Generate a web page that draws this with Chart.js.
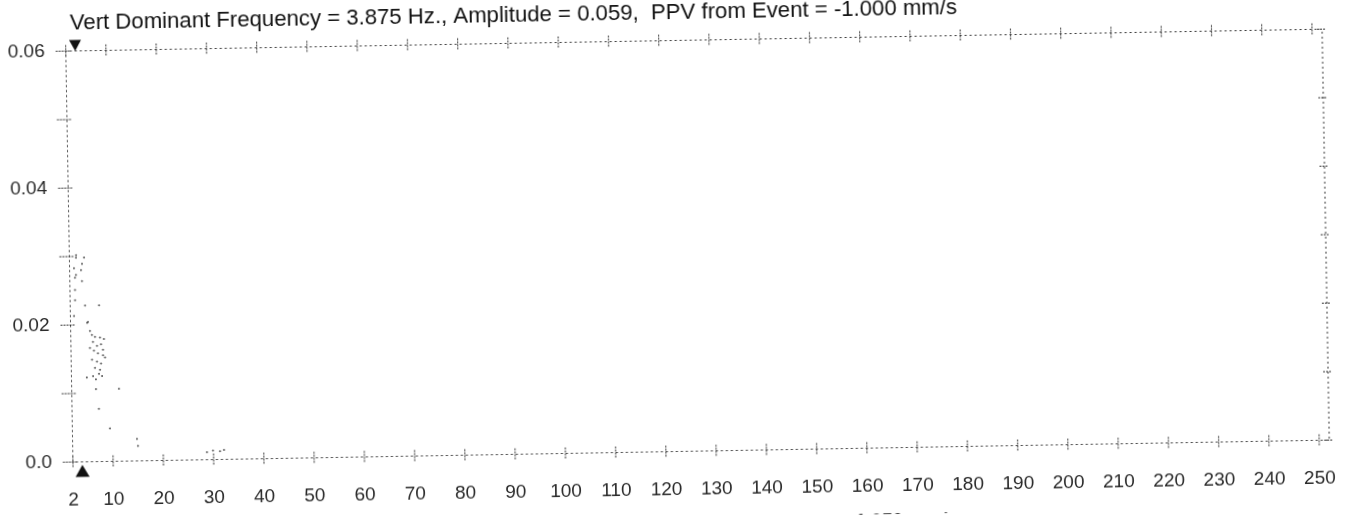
<!DOCTYPE html>
<html>
<head>
<meta charset="utf-8">
<script src="https://cdn.jsdelivr.net/npm/chart.js@4.4.1/dist/chart.umd.min.js"></script>
<style>
html, body { margin: 0; padding: 0; background: #fff; overflow: hidden; }
#wrap { width: 1351px; height: 518px; transform: rotate(-1deg); transform-origin: 675.5px 259px; }
</style>
</head>
<body>
<div id="wrap"><canvas id="spec" width="1351" height="518"></canvas></div>
<script>
// spectrum points (Hz, mm/s)
const freqs = [3.33, 3.31, 4.91, 4.49, 4.27, 3.25, 4.43, 3.05, 2.88, 3.01, 2.98, 2.72, 4.95, 5.48,
    5.84, 6.22, 6.82, 7.81, 8.59, 6.40, 7.19, 7.99, 8.37, 5.78, 6.56, 7.35, 8.35, 6.15, 7.13, 7.93,
    8.75, 6.71, 7.71, 6.30, 7.49, 8.09, 6.86, 5.06, 6.84, 11.41, 7.35, 9.48, 14.82, 15.0, 7.73, 5.3,
    28.7, 29.9, 31.3, 32.1];
const amps = [0.0302, 0.0298, 0.0298, 0.0289, 0.0280, 0.0273, 0.0264, 0.0269, 0.0283, 0.0251, 0.0236,
    0.0213, 0.0228, 0.0204, 0.0191, 0.0185, 0.0182, 0.0181, 0.0179, 0.0175, 0.0169, 0.0171, 0.0163,
    0.0166, 0.0162, 0.0158, 0.0155, 0.0149, 0.0146, 0.0143, 0.0152, 0.0137, 0.0134, 0.0125, 0.0128,
    0.0125, 0.0120, 0.0123, 0.0106, 0.0106, 0.0077, 0.0048, 0.0032, 0.0022, 0.0228, 0.0203,
    0.0011, 0.0013, 0.0012, 0.0014];
const xTicks = [2, 10, 20, 30, 40, 50, 60, 70, 80, 90, 100, 110, 120, 130, 140, 150, 160, 170, 180,
    190, 200, 210, 220, 230, 240, 250];
const yTicks = [0, 0.02, 0.04, 0.06];
const yTickLabels = ['0.0', '0.02', '0.04', '0.06'];
const yMinor = [0.01, 0.03, 0.05];
const titleText = 'Vert Dominant Frequency = 3.875 Hz., Amplitude = 0.059,  PPV from Event = -1.000 mm/s';
const domFreq = 3.875;
const footText = '1.050 mm/s';

const ink = '#333';
const fontFamily = '"Liberation Sans", Arial, sans-serif';

const scanFrame = {
    id: 'scanFrame',
    afterDraw(chart) {
        const ctx = chart.ctx;
        const a = chart.chartArea;
        const x = chart.scales.x;
        const y = chart.scales.y;
        ctx.save();
        ctx.strokeStyle = ink;
        ctx.lineWidth = 1;
        // dotted frame all round
        ctx.setLineDash([2, 3]);
        ctx.beginPath();
        ctx.moveTo(a.left, a.bottom);
        ctx.lineTo(a.left, a.top);
        ctx.lineTo(a.right, a.top);
        ctx.lineTo(a.right, a.bottom);
        ctx.lineTo(a.left, a.bottom);
        ctx.stroke();

        // little tick crosses
        ctx.setLineDash([2, 1]);
        xTicks.forEach(v => {
            const px = x.getPixelForValue(v);
            [a.top, a.bottom].forEach(py => {
                ctx.beginPath();
                ctx.moveTo(px, py - 6);
                ctx.lineTo(px, py + 6);
                ctx.stroke();
            });
        });
        yTicks.concat(yMinor).forEach(v => {
            const py = y.getPixelForValue(v);
            ctx.beginPath();
            ctx.moveTo(a.left - 10, py);
            ctx.lineTo(a.left + 5, py);
            ctx.moveTo(a.right - 5, py);
            ctx.lineTo(a.right + 4, py);
            ctx.stroke();
        });
        ctx.setLineDash([]);

        // dominant frequency markers
        const mx = x.getPixelForValue(domFreq);
        ctx.fillStyle = '#111';
        ctx.beginPath();
        ctx.moveTo(mx - 6, a.top - 11);
        ctx.lineTo(mx + 6, a.top - 11);
        ctx.lineTo(mx, a.top);
        ctx.closePath();
        ctx.fill();
        ctx.beginPath();
        ctx.moveTo(mx, a.bottom + 3);
        ctx.lineTo(mx + 7, a.bottom + 15);
        ctx.lineTo(mx - 7, a.bottom + 15);
        ctx.closePath();
        ctx.fill();

        // header text
        ctx.fillStyle = '#111';
        ctx.font = '20px ' + fontFamily;
        const w = ctx.measureText(titleText).width;
        const size = 20 * 888 / w;
        ctx.font = size.toFixed(2) + 'px ' + fontFamily;
        ctx.textBaseline = 'alphabetic';
        ctx.textAlign = 'left';
        ctx.fillText(titleText, 74, 19);

        // footer, mostly cut off by the page edge
        ctx.font = 'bold 19px ' + fontFamily;
        ctx.fillText(footText, 851, 530);
        ctx.restore();
    }
};

new Chart(document.getElementById('spec'), {
    type: 'scatter',
    data: {
        datasets: [{
            label: 'Vert',
            data: freqs.map((f, i) => ({ x: f, y: amps[i] })),
            pointRadius: 1,
            pointBackgroundColor: '#555',
            pointBorderWidth: 0
        }]
    },
    options: {
        responsive: false,
        animation: false,
        layout: { padding: { top: 40.5, right: 25, left: 0, bottom: 0 } },
        plugins: {
            legend: { display: false },
            tooltip: { enabled: false }
        },
        scales: {
            x: {
                type: 'linear',
                min: 2,
                max: 252,
                afterBuildTicks: scale => { scale.ticks = xTicks.map(v => ({ value: v })); },
                afterFit: scale => { scale.height = 66.5; },
                grid: { display: false },
                border: { display: false },
                ticks: {
                    color: '#2a2a2a',
                    padding: 19,
                    maxRotation: 0,
                    autoSkip: false,
                    font: { family: fontFamily, size: 19 }
                }
            },
            y: {
                min: 0,
                max: 0.06,
                afterBuildTicks: scale => { scale.ticks = yTicks.map(v => ({ value: v })); },
                afterFit: scale => { scale.width = 69.5; },
                grid: { display: false },
                border: { display: false },
                ticks: {
                    color: '#2a2a2a',
                    padding: 13,
                    font: { family: fontFamily, size: 19 },
                    callback: (v, i) => yTickLabels[i]
                }
            }
        }
    },
    plugins: [scanFrame]
});
</script>
</body>
</html>
